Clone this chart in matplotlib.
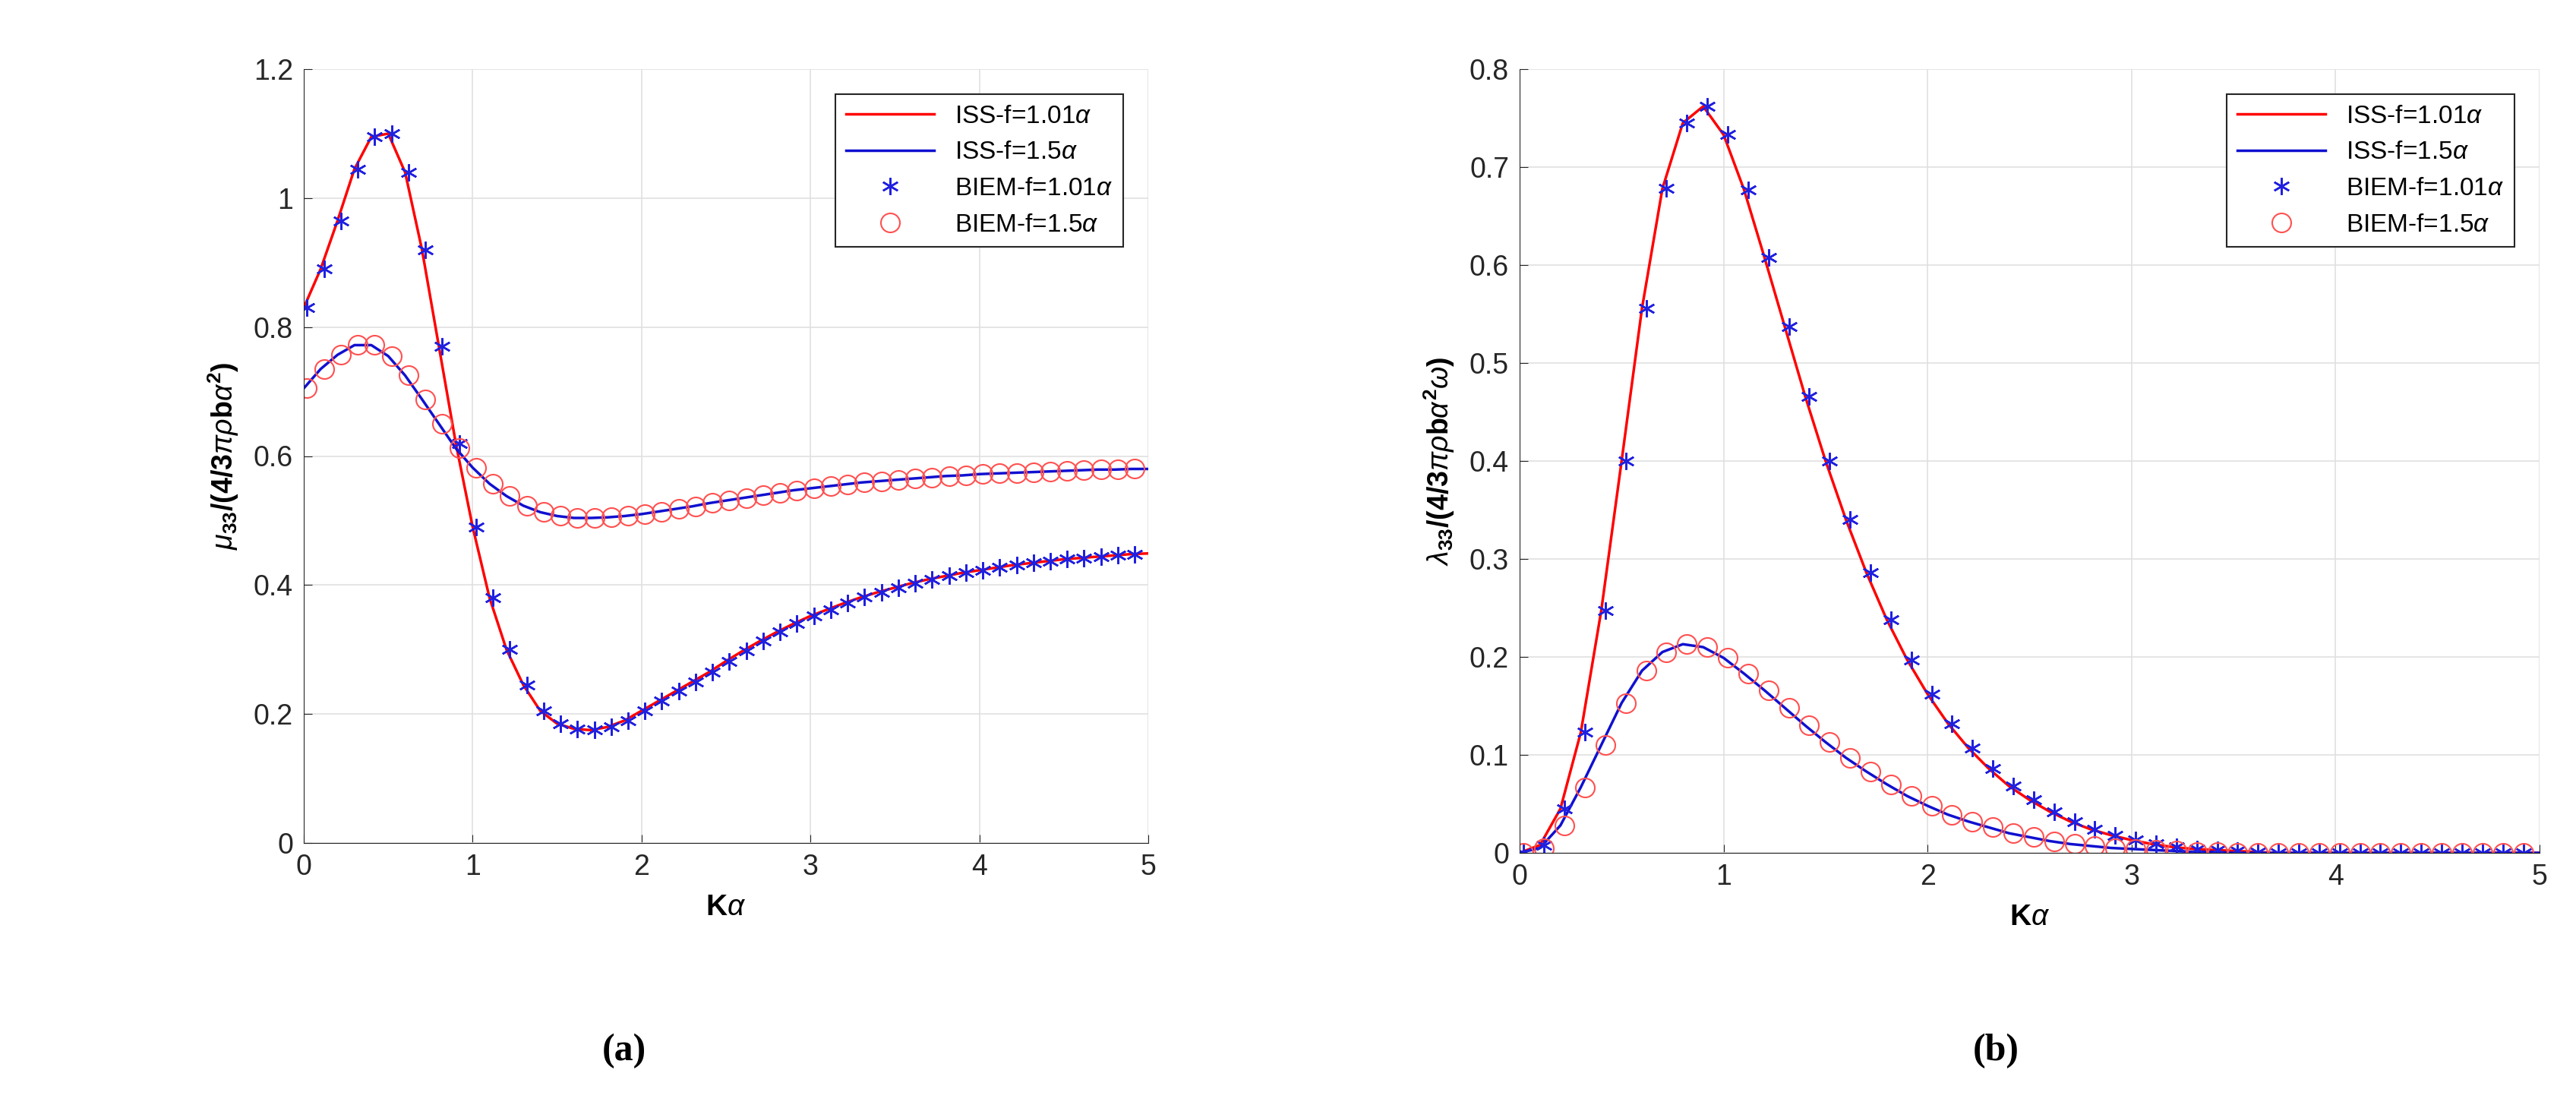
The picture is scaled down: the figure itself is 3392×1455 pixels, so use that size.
import numpy as np
import matplotlib
matplotlib.use("Agg")
import matplotlib.pyplot as plt
from matplotlib.ticker import FormatStrFormatter

plt.rcParams['font.family'] = ['Liberation Sans', 'DejaVu Sans']
plt.rcParams['mathtext.fontset'] = 'custom'
plt.rcParams['mathtext.rm'] = 'Liberation Sans'
plt.rcParams['mathtext.it'] = 'Liberation Sans:italic'
plt.rcParams['mathtext.bf'] = 'Liberation Sans:bold'

ka = np.round(np.arange(0, 5.01, 0.1), 2)

mu_f101 = [0.83, 0.89, 0.965, 1.045, 1.095, 1.10, 1.04, 0.92, 0.77, 0.62, 0.49, 0.38, 0.30, 0.245, 0.205,
           0.185, 0.177, 0.175, 0.18, 0.19, 0.205, 0.22, 0.235, 0.25, 0.265, 0.282, 0.298, 0.313, 0.327,
           0.34, 0.352, 0.362, 0.372, 0.381, 0.389, 0.396, 0.403, 0.409, 0.414, 0.419, 0.423, 0.427, 0.431,
           0.434, 0.437, 0.44, 0.442, 0.444, 0.446, 0.448, 0.449]
mu_f15 = [0.705, 0.735, 0.757, 0.772, 0.772, 0.755, 0.725, 0.688, 0.65, 0.612, 0.582, 0.557, 0.538, 0.523,
          0.513, 0.507, 0.504, 0.504, 0.505, 0.507, 0.51, 0.514, 0.518, 0.522, 0.527, 0.531, 0.535, 0.539,
          0.543, 0.547, 0.55, 0.553, 0.556, 0.559, 0.561, 0.563, 0.565, 0.567, 0.569, 0.57, 0.572, 0.573,
          0.574, 0.575, 0.576, 0.577, 0.578, 0.579, 0.579, 0.58, 0.58]
lam_f101 = [0, 0.008, 0.045, 0.123, 0.247, 0.40, 0.556, 0.678, 0.745, 0.762, 0.733, 0.677, 0.608, 0.537,
            0.466, 0.40, 0.34, 0.286, 0.238, 0.197, 0.162, 0.132, 0.107, 0.086, 0.068, 0.054, 0.042, 0.032,
            0.024, 0.018, 0.013, 0.009, 0.006, 0.004, 0.003, 0.002, 0.001, 0, 0, 0, 0, 0, 0, 0, 0, 0, 0,
            0, 0, 0, 0]
lam_f15 = [0, 0.005, 0.028, 0.067, 0.11, 0.153, 0.186, 0.205, 0.213, 0.21, 0.199, 0.183, 0.166, 0.148,
           0.13, 0.113, 0.097, 0.083, 0.07, 0.058, 0.048, 0.039, 0.032, 0.026, 0.02, 0.016, 0.012, 0.009,
           0.007, 0.005, 0.004, 0.003, 0.002, 0.001, 0.001, 0, 0, 0, 0, 0, 0, 0, 0, 0, 0, 0, 0, 0, 0, 0, 0]

labels = [r'ISS-f=1.01$\alpha$', r'ISS-f=1.5$\alpha$', r'BIEM-f=1.01$\alpha$', r'BIEM-f=1.5$\alpha$']

fig = plt.figure(figsize=(33.92, 14.55), dpi=100)
ax1 = fig.add_axes([400/3392, 1 - 1110/1455, 1112/3392, 1019/1455])
ax2 = fig.add_axes([2001/3392, 1 - 1123/1455, 1343/3392, 1032/1455])

def panel(ax, y1, y2, ylim, yticks, ylabel):
    ax.plot(ka, y1, color='red', lw=2.5, label=labels[0])
    ax.plot(ka, y2, color='#1010d0', lw=2.5, label=labels[1])
    ax.plot(ka[:-1] + 0.02, y1[:-1], ls='none', marker=(6, 2, 0), color='#2020e0', ms=16, mew=1.8,
            label=labels[2])
    ax.plot(ka[:-1] + 0.02, y2[:-1], ls='none', marker='o', mfc='none', mec='#ff5050', ms=18, mew=1.5,
            label=labels[3])
    ax.set_xlim(0, 5)
    ax.set_ylim(*ylim)
    ax.set_yticks(yticks)
    ax.set_xticks(range(6))
    ax.yaxis.set_major_formatter(FormatStrFormatter('%g'))
    ax.grid(True, color='#e0e0e0', lw=1.2)
    ax.tick_params(labelsize=27, colors='#262626', direction='in', length=8, pad=10)
    for s in ax.spines.values():
        s.set_color('#262626')
    ax.spines['top'].set_visible(False)
    ax.spines['right'].set_visible(False)
    ax.set_xlabel(r'K$\alpha$', fontsize=28, fontweight='bold', labelpad=12)
    ax.set_ylabel(ylabel, fontsize=27, labelpad=12)
    leg = ax.legend(loc='upper right', fontsize=24, fancybox=False, edgecolor='#262626',
                    borderaxespad=1.0, handlelength=3.5, framealpha=1)
    leg.get_frame().set_linewidth(1.5)

panel(ax1, mu_f101, mu_f15, (0, 1.2), [0, 0.2, 0.4, 0.6, 0.8, 1, 1.2],
      r'$\mu_{\mathbf{33}}\mathbf{/(4/3}\pi\rho\mathbf{b}\alpha^{\mathbf{2}}\mathbf{)}$')
panel(ax2, lam_f101, lam_f15, (0, 0.8), [0, 0.1, 0.2, 0.3, 0.4, 0.5, 0.6, 0.7, 0.8],
      r'$\lambda_{\mathbf{33}}\mathbf{/(4/3}\pi\rho\mathbf{b}\alpha^{\mathbf{2}}\omega\mathbf{)}$')

fig.text(822/3392, 1 - 1384/1455, '(a)', fontsize=36, family='Liberation Serif', fontweight='bold',
         ha='center', va='center')
fig.text(2628/3392, 1 - 1384/1455, '(b)', fontsize=36, family='Liberation Serif', fontweight='bold',
         ha='center', va='center')

fig.savefig('out.png', dpi=100)
